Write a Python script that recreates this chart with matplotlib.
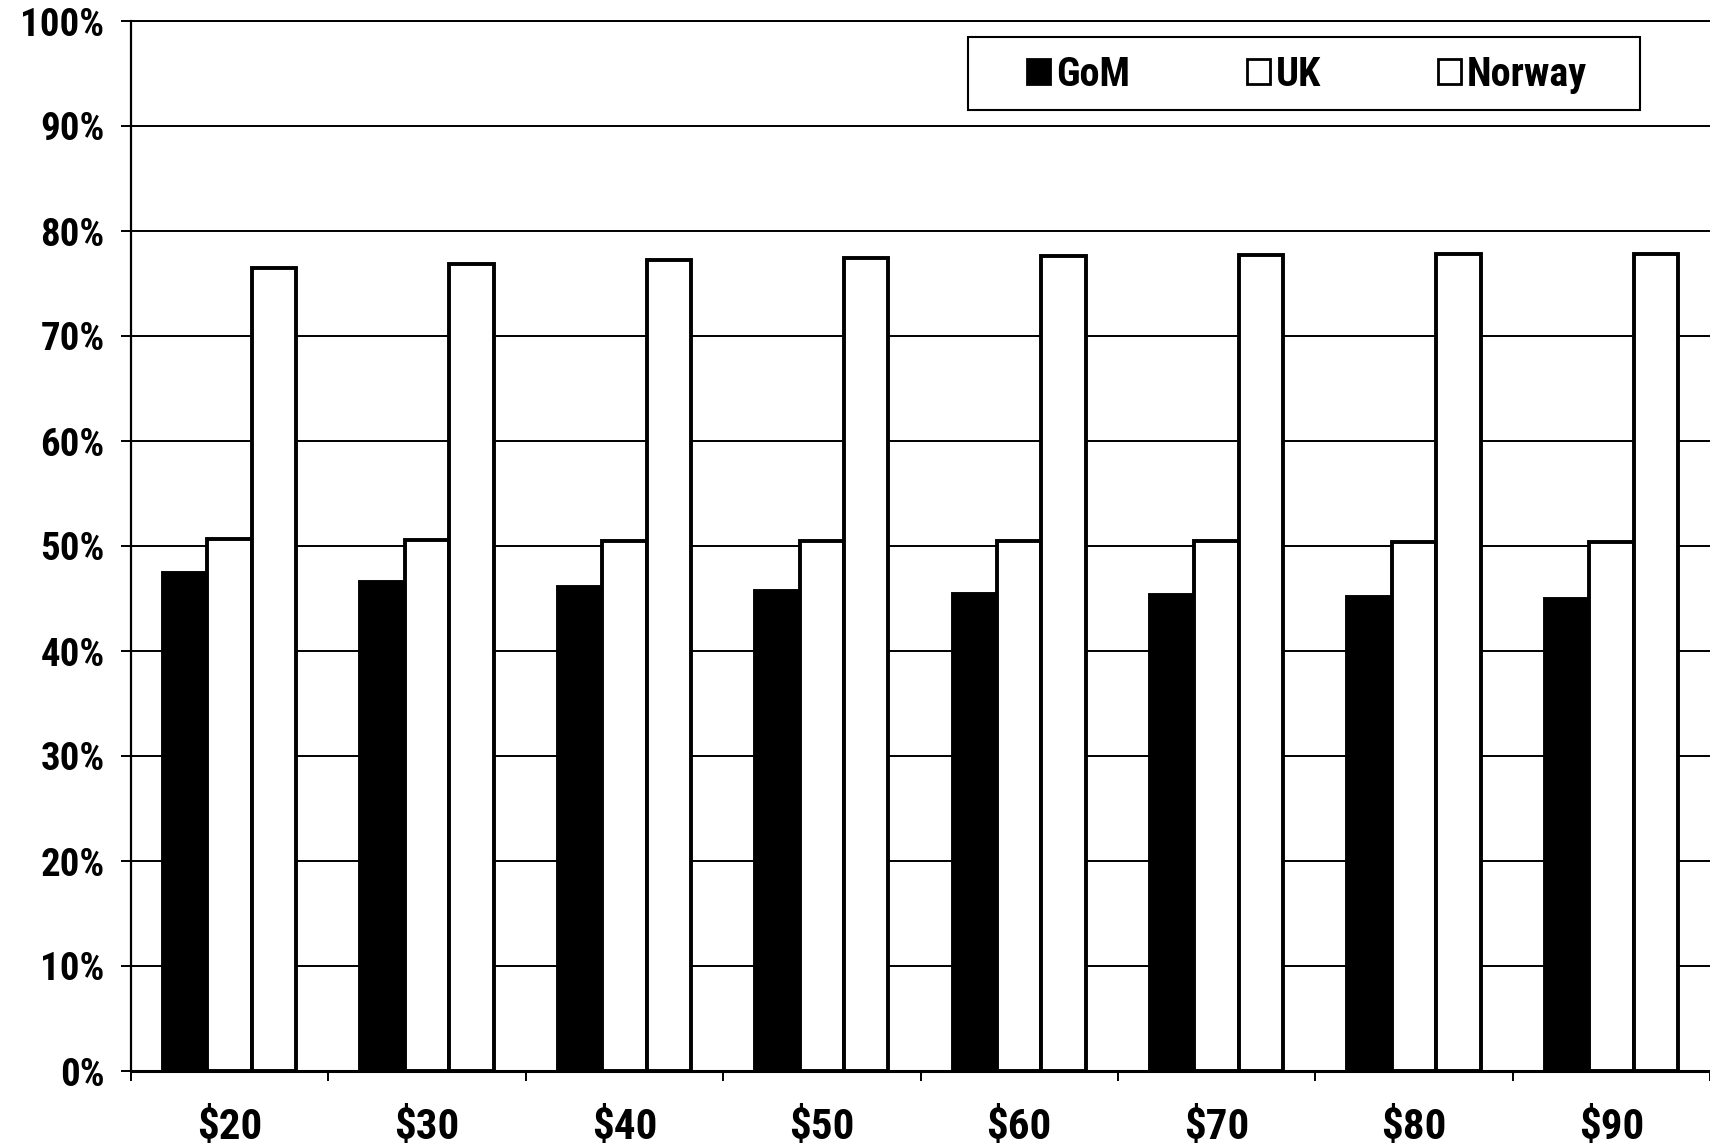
import matplotlib.pyplot as plt
from matplotlib import font_manager as fm
from matplotlib.patches import Rectangle
import numpy as np

# oil price cases and shares per region
prices = ["$20", "$30", "$40", "$50", "$60", "$70", "$80", "$90"]
gom = [47.4, 46.6, 46.1, 45.7, 45.4, 45.3, 45.1, 45.0]
uk = [50.7, 50.6, 50.5, 50.5, 50.5, 50.5, 50.4, 50.4]
norway = [76.5, 76.9, 77.2, 77.4, 77.6, 77.7, 77.8, 77.8]
y_ticks = list(range(0, 101, 10))

# the scan uses a narrow Arial-like bold face; take a condensed one if present
installed = {f.name for f in fm.fontManager.ttflist}
family, sizes = "Liberation Sans", (24, 26, 24)
for name in ["Liberation Sans Narrow", "Arial Narrow", "Roboto Condensed"]:
    if name in installed:
        family, sizes = name, (28, 31, 29)
        break
ysize, xsize, lsize = sizes

plt.rcParams["font.family"] = [family, "DejaVu Sans"]
plt.rcParams["font.weight"] = "bold"

W, H = 1710, 1146
fig = plt.figure(figsize=(W / 100, H / 100), dpi=100)
ax = fig.add_axes([131 / W, 75 / H, 1 - 131 / W, 1050 / H])

x = np.arange(len(prices))
w = 0.225
bar_kw = dict(width=w, edgecolor="black", linewidth=2.8, zorder=3)
ax.bar(x - w, gom, color="black", label="GoM", **bar_kw)
ax.bar(x, uk, color="white", label="UK", **bar_kw)
ax.bar(x + w, norway, color="white", label="Norway", **bar_kw)

ax.set_xlim(-0.5, 7.455)
ax.set_ylim(0, 100)
ax.set_yticks(y_ticks)
ax.set_yticklabels([f"{v}%" for v in y_ticks], fontsize=ysize)
ax.yaxis.grid(True, color="black", linewidth=1.4)
ax.set_axisbelow(True)

ax.set_xticks(x)
ax.set_xticklabels(prices, fontsize=xsize)
ax.set_xticks(np.arange(-0.5, len(prices), 1), minor=True)
ax.tick_params(axis="x", which="major", length=0, pad=26)
ax.tick_params(axis="x", which="minor", length=7, width=1.4, direction="out")
ax.tick_params(axis="y", length=7, width=1.4, pad=12)

ax.spines["right"].set_visible(False)
ax.spines["top"].set_linewidth(1.4)
ax.spines["left"].set_linewidth(1.6)
ax.spines["bottom"].set_linewidth(2.2)

leg = ax.legend(
    ncol=3, loc="upper left", bbox_to_anchor=(1015 / W, 1 - 44 / H),
    bbox_transform=fig.transFigure, borderaxespad=0, fontsize=lsize,
    frameon=False, handlelength=0.57, handleheight=0.57, handletextpad=0.15,
    columnspacing=2.9, borderpad=0.3,
)
for h in leg.legend_handles:
    h.set_linewidth(2.0)

# legend frame: wider side margins than matplotlib's uniform borderpad
fig.canvas.draw()
bb = leg.get_window_extent()
fig.patches.append(Rectangle(
    ((bb.x0 - 47) / W, (bb.y0 - 4) / H), (bb.width + 88) / W, (bb.height + 11) / H,
    transform=fig.transFigure, fill=False, edgecolor="black", linewidth=1.5,
    zorder=5,
))

fig.savefig("out.png", dpi=100)
